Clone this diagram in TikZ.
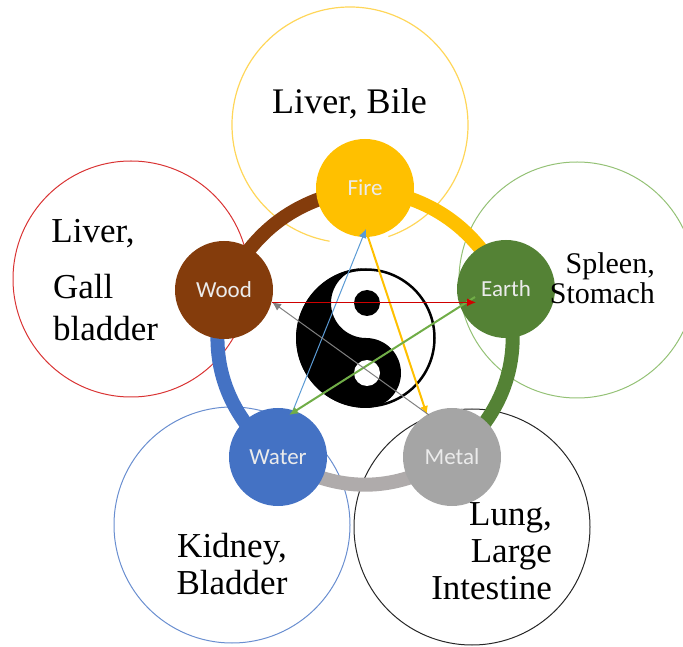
\documentclass[tikz,border=0pt]{standalone}
\usepackage{fontspec}
\setmainfont{Liberation Serif}
\newfontfamily\elemfont{Carlito}
\usepackage{xcolor}
\usetikzlibrary{arrows.meta,backgrounds}
\definecolor{firecol}{HTML}{FFC000}
\definecolor{woodcol}{HTML}{843C0C}
\definecolor{earthcol}{HTML}{548235}
\definecolor{watercol}{HTML}{4472C4}
\definecolor{metalcol}{HTML}{A5A5A5}
\definecolor{bandgray}{HTML}{AFABAB}
\definecolor{linkred}{HTML}{D00000}
\definecolor{linkblue}{HTML}{5B9BD5}
\definecolor{linkgreen}{HTML}{70AD47}
\begin{document}
\begin{tikzpicture}[
  x=1pt, y=1pt,
  ring/.style={draw, circle, line width=1pt, minimum size=236pt, inner sep=0pt},
  elem/.style={circle, minimum size=98pt, inner sep=0pt, text=white!92!black, font=\elemfont\fontsize{23}{26}\selectfont},
  band/.style={line width=14pt},
  organ/.style={font=\fontsize{35}{42}\selectfont, inner sep=0pt},
  link/.style={-{Latex[length=9pt,width=8pt]}}
]
  \useasboundingbox (0,0) rectangle (683,646);
  \clip (0,0) rectangle (683,646);

  % Pixel coordinates, y measured up from the bottom edge.
  \node[elem, fill=firecol] (fire) at (365,458) {Fire};
  \node[elem, fill=woodcol] (wood) at (224,356) {Wood};
  \node[elem, fill=earthcol] (earth) at (506,357) {Earth};
  \node[elem, fill=watercol] (water) at (278,189) {Water};
  \node[elem, fill=metalcol] (metal) at (452,189) {Metal};

  \begin{scope}[on background layer]
    \draw[line width=1.2pt, draw=firecol!65] (350,521) ++(260:118) arc[start angle=260, end angle=-71, radius=118];
    \node[ring, draw=linkred!80] (woodring) at (131,367) {};
    \node[ring, draw=linkgreen!75] (earthring) at (577,366) {};
    \node[ring, draw=watercol!80] (waterring) at (232,121) {};
    \node[ring, draw=black!85] (metalring) at (472,119) {};
    \draw[band, draw=woodcol] (wood.center) to[bend left=28] (fire.center);
    \draw[band, draw=firecol] (fire.center) to[bend left=28] (earth.center);
    \draw[band, draw=earthcol] (earth.center) to[bend left=33] (metal.center);
    \draw[band, draw=bandgray] (metal.center) to[bend left=33] (water.center);
    \draw[band, draw=watercol] (water.center) to[bend left=33] (wood.center);
  \end{scope}

  % Taijitu
  \draw[line width=2.5pt] (366,308) circle[radius=68.5];
  \fill (366,378) arc[start angle=90, end angle=270, radius=70]
    arc[start angle=-90, end angle=90, radius=35]
    arc[start angle=270, end angle=90, radius=35];
  \fill (367,343) circle[radius=13];
  \fill[white] (367,273) circle[radius=13];

  % Named tips of the links
  \coordinate (woodtip) at (272,344);
  \coordinate (woodstart) at (272,343.6);
  \coordinate (earthtip) at (476,343.6);
  \coordinate (earthstart) at (475,349);
  \coordinate (firetip) at (366,417);
  \coordinate (firestart) at (368,409);
  \coordinate (watertip) at (289,231);
  \coordinate (waterstart) at (292,233);
  \coordinate (metaltip) at (427,231);
  \coordinate (metalstart) at (429,231);

  \draw[link, draw=linkblue, line width=1pt] (waterstart) -- (firetip);
  \draw[link, draw=firecol, line width=2pt] (firestart) -- (metaltip);
  \draw[link, draw=linkgreen, line width=2pt] (earthstart) -- (watertip);
  \draw[link, draw=gray, line width=1pt] (metalstart) -- (woodtip);
  \draw[link, draw=linkred, line width=1.3pt] (woodstart) -- (earthtip);

  % Organ labels
  \node[organ, font=\fontsize{36}{42}\selectfont] (firetext) at (349.5,542) {Liver, Bile};
  \node[organ] (woodtext) at (93,412) {Liver,};
  \node[organ, align=left] (gallbladder) at (105.5,338) {Gall\\bladder};
  \node[organ, align=right, anchor=east, font=\fontsize{30}{30}\selectfont] (earthtext) at (655,368) {Spleen,\\Stomach};
  \node[organ, align=center, font=\fontsize{35}{37}\selectfont] (watertext) at (232,82) {Kidney,\\Bladder};
  \node[organ, align=right, anchor=east, font=\fontsize{35}{37}\selectfont] (metaltext) at (552,95) {Lung,\\Large\\Intestine};
\end{tikzpicture}
\end{document}
